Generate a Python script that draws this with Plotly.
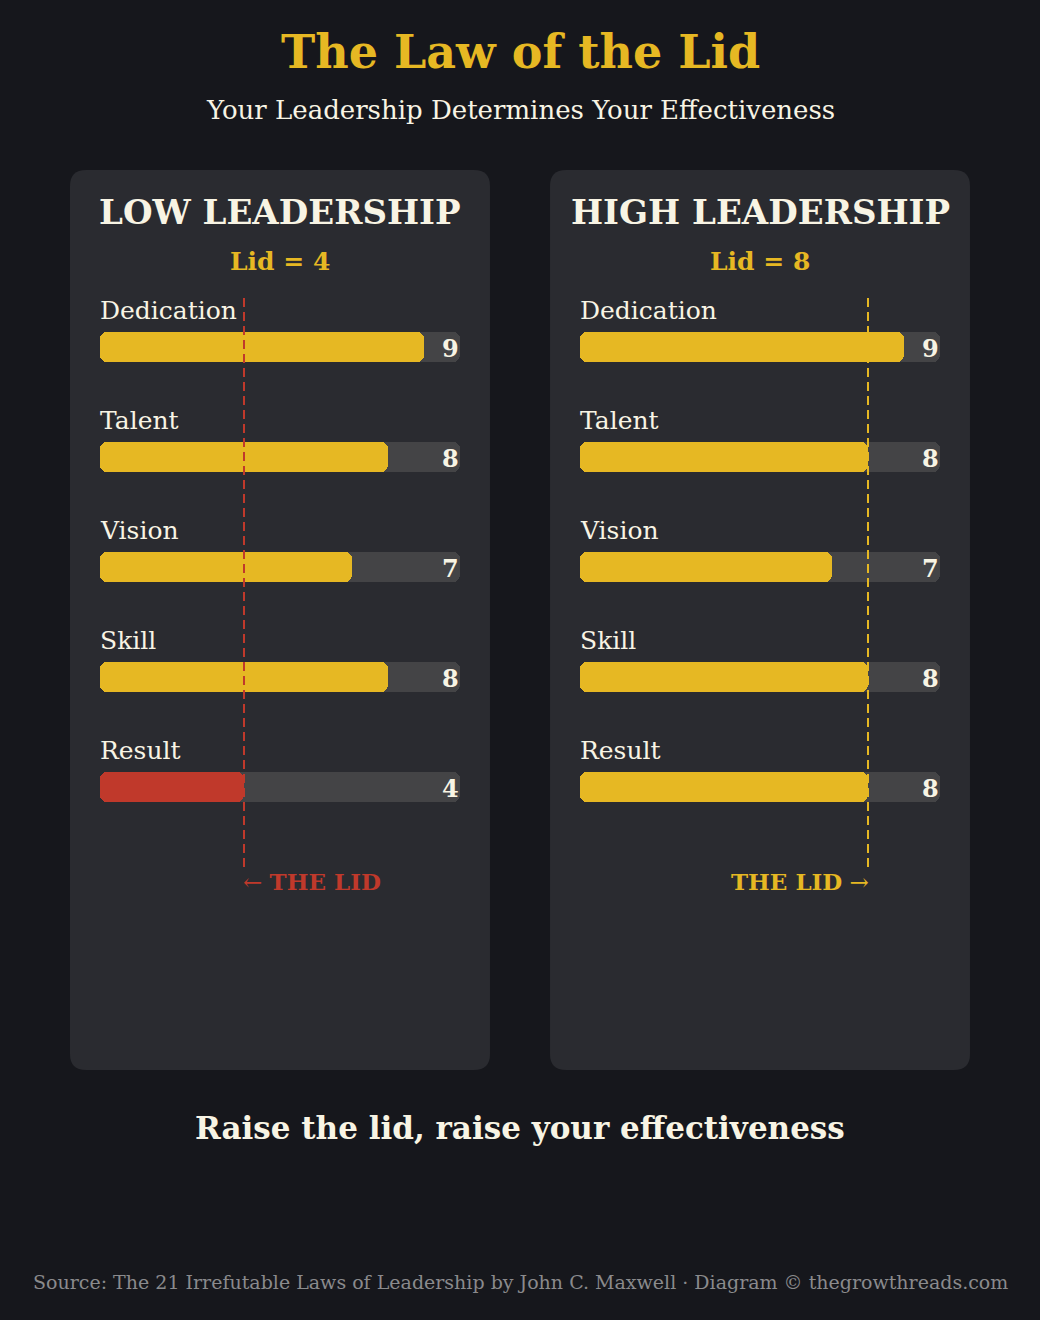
import plotly.graph_objects as go

# ---------------- data ----------------
categories = ["Dedication", "Talent", "Vision", "Skill", "Result"]
low_values = [9, 8, 7, 8, 4]
high_values = [9, 8, 7, 8, 8]
low_lid = 4
high_lid = 8
scale_max = 10
panel_titles = ["LOW LEADERSHIP", "HIGH LEADERSHIP"]

# ---------------- style ----------------
W, H = 1040, 1320
BG = "#16171c"
PANEL = "#2a2b30"
TRACK = "#444446"
GOLD = "#e6b823"
RED = "#c0392b"
CREAM = "#f8f4e4"
GREY = "#8a8a8c"
FONT = "DejaVu Serif"

def py(px):
    return 1 - px / H

def pxx(px):
    return px / W

fig = go.Figure()

panels = [
    dict(x0=70, x1=490, track=(100, 460), values=low_values, lid=low_lid,
         colors=[GOLD] * 4 + [RED], lidcolor=RED, ax="x", ay="y",
         title=panel_titles[0]),
    dict(x0=550, x1=970, track=(580, 940), values=high_values, lid=high_lid,
         colors=[GOLD] * 5, lidcolor=GOLD, ax="x2", ay="y2",
         title=panel_titles[1]),
]

shapes = []
annotations = []

def rounded_rect(x0, y0, x1, y1, r):
    X = lambda v: f"{pxx(v):.5f}"
    Y = lambda v: f"{py(v):.5f}"
    return (f"M {X(x0+r)},{Y(y0)} L {X(x1-r)},{Y(y0)} Q {X(x1)},{Y(y0)} {X(x1)},{Y(y0+r)} "
            f"L {X(x1)},{Y(y1-r)} Q {X(x1)},{Y(y1)} {X(x1-r)},{Y(y1)} "
            f"L {X(x0+r)},{Y(y1)} Q {X(x0)},{Y(y1)} {X(x0)},{Y(y1-r)} "
            f"L {X(x0)},{Y(y0+r)} Q {X(x0)},{Y(y0)} {X(x0+r)},{Y(y0)} Z")

cat_top, cat_bottom = 292, 842
ydomain = [py(cat_bottom), py(cat_top)]
bar_w = 30 / 110
RADIUS = 7


def pill(values, colors, ax, ay, hover):
    """Draw a bar rounded at both ends as two overlapping halves."""
    mids = [v * 0.5 for v in values]
    # left half: from slightly past the middle back to 0 (rounded at 0)
    fig.add_trace(go.Bar(
        x=[-(m + 0.05 * v) for m, v in zip(mids, values)],
        base=[m + 0.05 * v for m, v in zip(mids, values)],
        y=categories, orientation="h",
        marker=dict(color=colors, cornerradius=RADIUS, line=dict(width=0)),
        width=bar_w, xaxis=ax, yaxis=ay, hoverinfo="skip", showlegend=False))
    # right half: from slightly before the middle to the value (rounded at value)
    fig.add_trace(go.Bar(
        x=[m + 0.05 * v for m, v in zip(mids, values)],
        base=[m - 0.05 * v for m, v in zip(mids, values)],
        y=categories, orientation="h",
        marker=dict(color=colors, cornerradius=RADIUS, line=dict(width=0)),
        width=bar_w, xaxis=ax, yaxis=ay, showlegend=False,
        customdata=values,
        hovertemplate="%{y}: %{customdata}<extra></extra>" if hover else None,
        hoverinfo=None if hover else "skip"))


for i, p in enumerate(panels):
    shapes.append(dict(type="path", xref="paper", yref="paper",
                       path=rounded_rect(p["x0"], 170, p["x1"], 1070, 16),
                       fillcolor=PANEL, line=dict(width=0), layer="below"))
    pill([scale_max] * len(categories), TRACK, p["ax"], p["ay"], False)
    pill(p["values"], p["colors"], p["ax"], p["ay"], True)
    xr = p["ax"]
    yr = p["ay"]
    for c, v in zip(categories, p["values"]):
        annotations.append(dict(x=0, y=c, xref=xr, yref=yr, text=c,
                                showarrow=False, xanchor="left", yanchor="middle",
                                yshift=37, xshift=-2,
                                font=dict(family=FONT, size=25, color=CREAM)))
        annotations.append(dict(x=scale_max, y=c, xref=xr, yref=yr, text=f"<b>{v}</b>",
                                showarrow=False, xanchor="right", yanchor="middle",
                                xshift=1, yshift=-1,
                                font=dict(family=FONT, size=24, color=CREAM)))
    shapes.append(dict(type="line", xref=xr, yref="paper",
                       x0=p["lid"], x1=p["lid"], y0=py(298), y1=py(870),
                       line=dict(color=p["lidcolor"], width=2, dash="9px,5px"),
                       layer="above"))
    if i == 0:
        annotations.append(dict(x=p["lid"], y=py(881), xref=xr, yref="paper",
                                text="← <b>THE LID</b>", showarrow=False,
                                xanchor="left", yanchor="middle", xshift=-3,
                                font=dict(family=FONT, size=23, color=p["lidcolor"])))
    else:
        annotations.append(dict(x=p["lid"], y=py(881), xref=xr, yref="paper",
                                text="<b>THE LID</b> →", showarrow=False,
                                xanchor="right", yanchor="middle", xshift=3,
                                font=dict(family=FONT, size=23, color=p["lidcolor"])))
    cx = (p["x0"] + p["x1"]) / 2
    annotations.append(dict(x=pxx(cx), y=py(212), xref="paper", yref="paper",
                            text=f"<b>{p['title']}</b>", showarrow=False,
                            xanchor="center", yanchor="middle",
                            font=dict(family=FONT, size=34, color=CREAM)))
    annotations.append(dict(x=pxx(cx), y=py(261), xref="paper", yref="paper",
                            text=f"<b>Lid = {p['lid']}</b>", showarrow=False,
                            xanchor="center", yanchor="middle",
                            font=dict(family=FONT, size=25, color=GOLD)))

annotations += [
    dict(x=0.5, y=py(52), xref="paper", yref="paper", text="<b>The Law of the Lid</b>",
         showarrow=False, xanchor="center", yanchor="middle",
         font=dict(family=FONT, size=46, color=GOLD)),
    dict(x=0.5, y=py(110), xref="paper", yref="paper",
         text="Your Leadership Determines Your Effectiveness",
         showarrow=False, xanchor="center", yanchor="middle",
         font=dict(family=FONT, size=26, color=CREAM)),
    dict(x=0.5, y=py(1128), xref="paper", yref="paper",
         text="<b>Raise the lid, raise your effectiveness</b>",
         showarrow=False, xanchor="center", yanchor="middle",
         font=dict(family=FONT, size=31, color=CREAM)),
    dict(x=0.5, y=py(1282), xref="paper", yref="paper",
         text="Source: The 21 Irrefutable Laws of Leadership by John C. Maxwell · Diagram © thegrowthreads.com",
         showarrow=False, xanchor="center", yanchor="middle",
         font=dict(family=FONT, size=19, color=GREY)),
]

axis_common = dict(range=[0, scale_max], showgrid=False, zeroline=False,
                   showticklabels=False, ticks="", showline=False, fixedrange=True)
yaxis_common = dict(domain=ydomain, showgrid=False, zeroline=False,
                    showticklabels=False, ticks="", showline=False,
                    categoryorder="array", categoryarray=categories,
                    autorange="reversed", fixedrange=True)

fig.update_layout(
    width=W, height=H,
    margin=dict(l=0, r=0, t=0, b=0),
    paper_bgcolor=BG, plot_bgcolor="rgba(0,0,0,0)",
    barmode="overlay", bargap=0,
    xaxis=dict(domain=[pxx(100), pxx(460)], anchor="y", **axis_common),
    xaxis2=dict(domain=[pxx(580), pxx(940)], anchor="y2", **axis_common),
    yaxis=dict(anchor="x", **yaxis_common),
    yaxis2=dict(anchor="x2", **yaxis_common),
    shapes=shapes, annotations=annotations,
    showlegend=False,
)

fig.write_html("out.html", config={"displayModeBar": False})
